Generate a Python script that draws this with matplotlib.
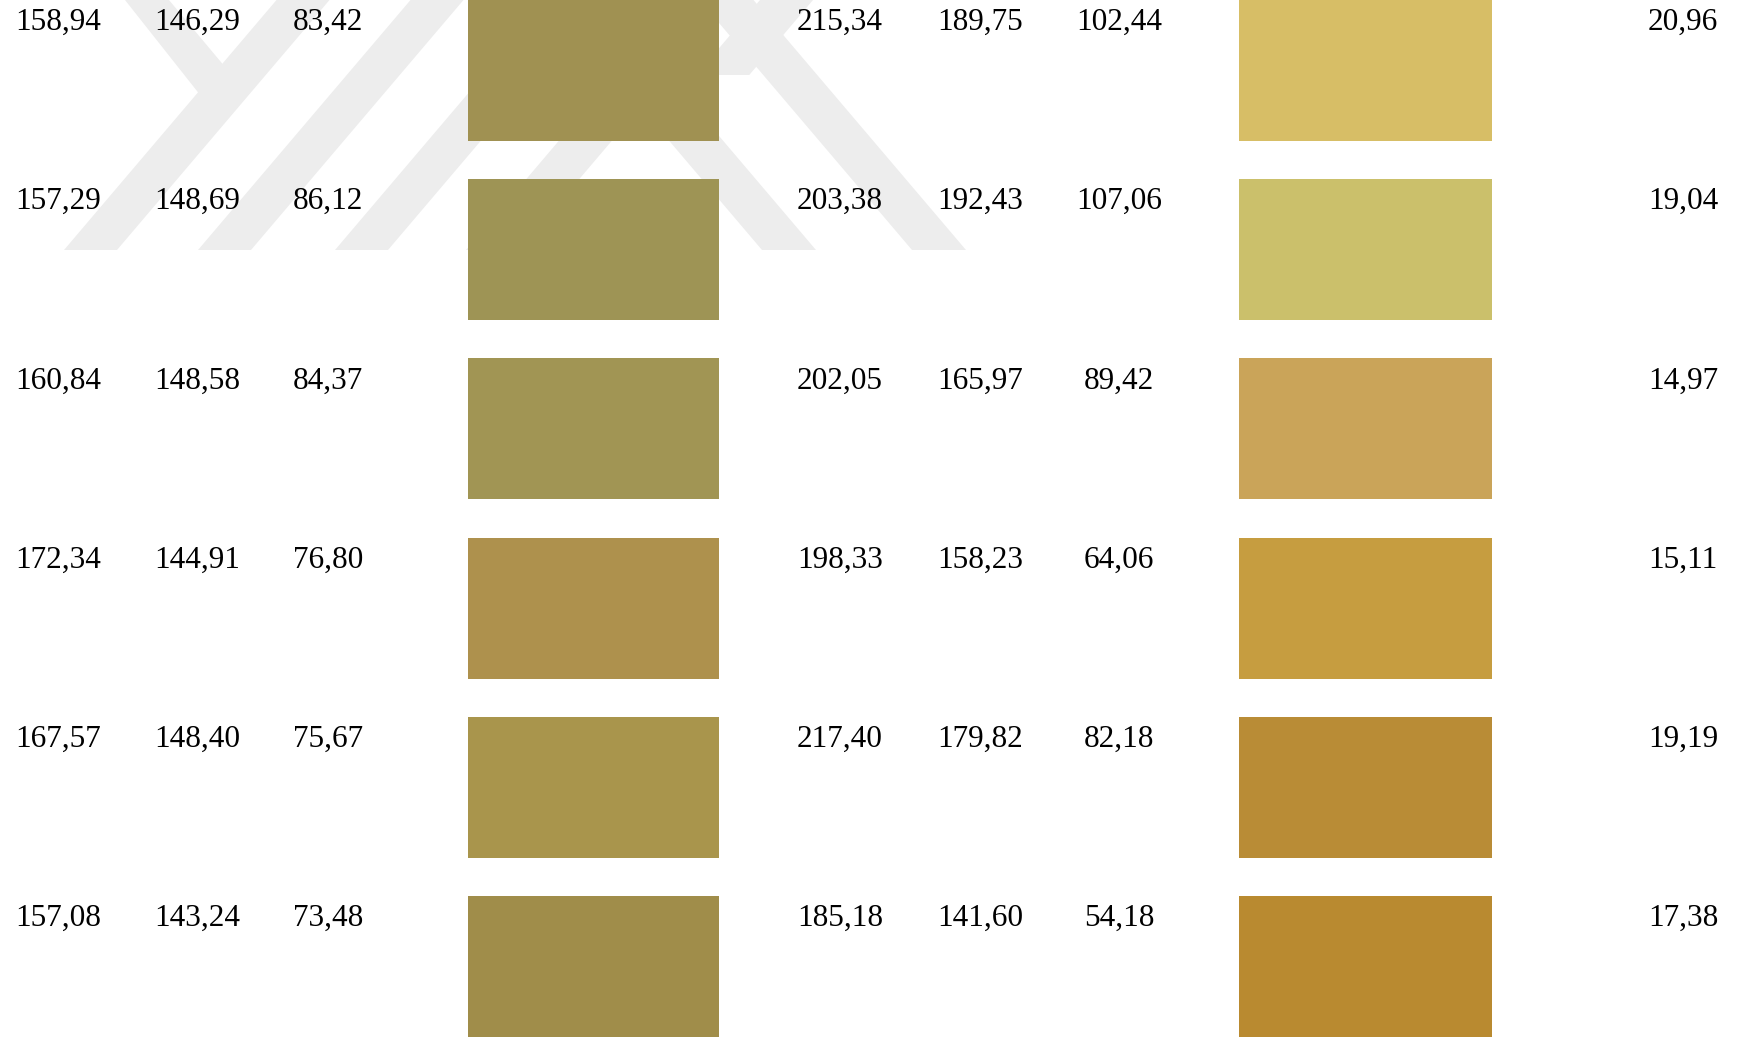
import numpy as np
import matplotlib.pyplot as plt
from matplotlib.patches import Polygon

# colour measurements per sample (R, G, B) - left and right groups
left_r = [158.94, 157.29, 160.84, 172.34, 167.57, 157.08]
left_g = [146.29, 148.69, 148.58, 144.91, 148.40, 143.24]
left_b = [83.42, 86.12, 84.37, 76.80, 75.67, 73.48]

right_r = [215.34, 203.38, 202.05, 198.33, 217.40, 185.18]
right_g = [189.75, 192.43, 165.97, 158.23, 179.82, 141.60]
right_b = [102.44, 107.06, 89.42, 64.06, 82.18, 54.18]

delta = [20.96, 19.04, 14.97, 15.11, 19.19, 17.38]

# swatch colours as they appear in the picture
left_swatch = ['#a09152', '#9e9455', '#a19554', '#ae914d', '#a9954c', '#a08d4a']
right_swatch = ['#d7be66', '#cbc06b', '#caa459', '#c69d40', '#b98c36', '#b98a30']


def fmt(v):
    return f"{v:.2f}".replace(".", ",")


def band(x0, x1, y_bot, y_top, shift):
    # parallelogram: x0..x1 at y_bot, moved by shift when reaching y_top
    return [(x0, y_bot), (x1, y_bot), (x1 + shift, y_top), (x0 + shift, y_top)]


def draw_watermark(ax):
    col = '#ededed'
    shapes = []
    # "/" bands
    for xb in [64, 198, 335, 466]:
        shapes.append(band(xb, xb + 53, 250, 0, 0.85 * 250))
    # "\" bands
    for xb in [762, 912]:
        shapes.append(band(xb, xb + 54, 250, 0, -0.85 * 250))
    # left arm of the Y
    shapes.append([(125, 0), (169, 0), (236, 80), (212, 110)])
    # short arm right of the first swatch
    shapes.append(band(760, 813, 0, 75, -0.85 * 75))
    for s in shapes:
        ax.add_patch(Polygon(s, closed=True, facecolor=col, edgecolor='none', zorder=0))


def main():
    W, H = 1742, 1037
    fig = plt.figure(figsize=(W / 100, H / 100), dpi=100)
    ax = fig.add_axes([0, 0, 1, 1])
    ax.set_xlim(0, W)
    ax.set_ylim(H, 0)
    ax.axis('off')

    draw_watermark(ax)

    n = len(delta)
    pitch = 179.2
    tops = np.arange(n) * pitch
    sw_h = 141

    ax.bar(np.full(n, 468), np.full(n, sw_h), width=251, bottom=tops,
           align='edge', color=left_swatch, edgecolor='none', zorder=2)
    ax.bar(np.full(n, 1239), np.full(n, sw_h), width=253, bottom=tops,
           align='edge', color=right_swatch, edgecolor='none', zorder=2)

    font = dict(family='Liberation Serif', size=22.5, color='black',
                ha='center', va='baseline', zorder=3)
    cols = [(58.5, left_r), (197.5, left_g), (328, left_b),
            (840, right_r), (980, right_g), (1119, right_b), (1683, delta)]
    for x, vals in cols:
        for i, v in enumerate(vals):
            ax.text(x, tops[i] + 30, fmt(v), **font)

    plt.savefig('out.png', dpi=100, facecolor='white')


if __name__ == "__main__":
    main()
